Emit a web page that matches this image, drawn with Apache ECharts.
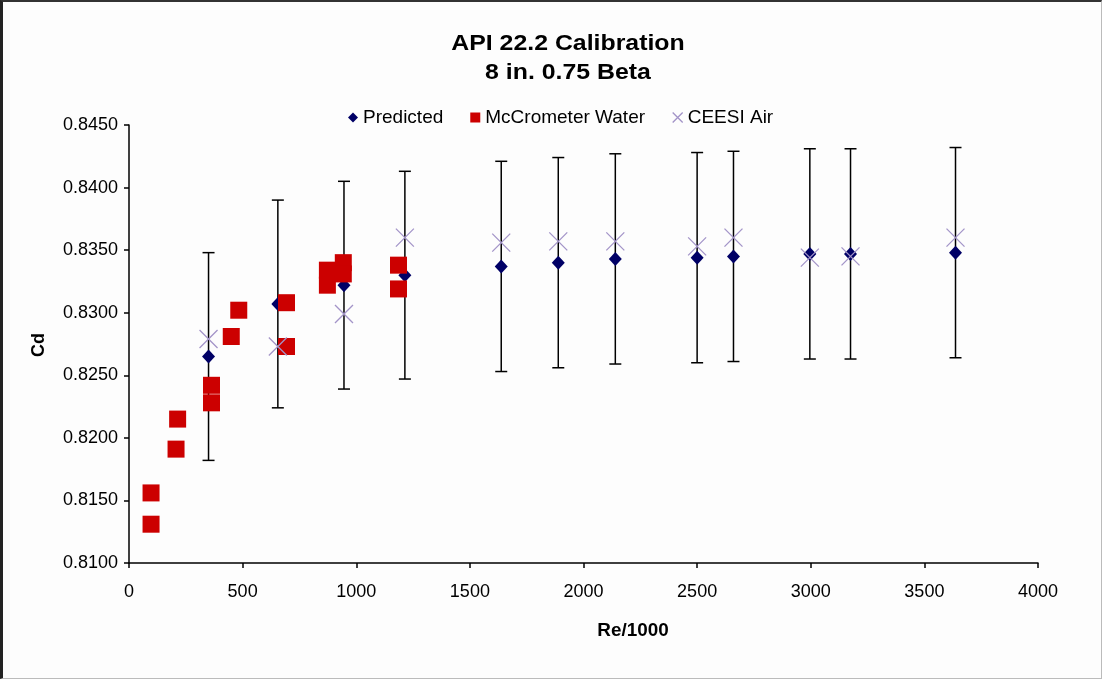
<!DOCTYPE html>
<html>
<head>
<meta charset="utf-8">
<script src="https://cdn.jsdelivr.net/npm/echarts@6/dist/echarts.min.js"></script>
<style>
html,body{margin:0;padding:0;background:#fff;}
#wrap{position:absolute;left:0;top:0;width:1102px;height:679px;box-sizing:border-box;border-left:3px solid #222;border-top:2px solid #333;border-right:1px solid #bbb;border-bottom:1px solid #bbb;background:#fdfdfd;}
#chart{position:absolute;left:-3px;top:-2px;width:1102px;height:679px;}
</style>
</head>
<body>
<div id="wrap"><div id="chart"></div></div>
<script>
// Re/1000 positions of the predicted / CEESI points
const reAir = [350, 655, 946, 1214, 1638, 1889, 2140, 2500, 2660, 2996, 3175, 3637];
const predicted = [0.8265, 0.8307, 0.8322, 0.8330, 0.8337, 0.8340, 0.8343, 0.8344, 0.8345, 0.8347, 0.8347, 0.8348];
const predictedErr = [0.0083, 0.0083, 0.0083, 0.0083, 0.0084, 0.0084, 0.0084, 0.0084, 0.0084, 0.0084, 0.0084, 0.0084];
const ceesiAir = [0.8279, 0.8273, 0.8299, 0.8360, 0.8356, 0.8357, 0.8357, 0.8353, 0.8360, 0.8344, 0.8345, 0.8360];
// McCrometer water points
const reWater = [97, 97, 207, 214, 363, 363, 450, 483, 693, 693, 873, 873, 943, 943, 1186, 1186];
const cdWater = [0.8156, 0.8131, 0.8191, 0.8215, 0.8242, 0.8228, 0.8281, 0.8302, 0.8308, 0.8273, 0.8334, 0.8322, 0.8340, 0.8331, 0.8338, 0.8319];
const xTicks = [0, 500, 1000, 1500, 2000, 2500, 3000, 3500, 4000];
const yTicks = [0.8100, 0.8150, 0.8200, 0.8250, 0.8300, 0.8350, 0.8400, 0.8450];

const X_PATH = 'path://M0,0L10,10M10,0L0,10';
const FONT = '"Liberation Sans", Arial, sans-serif';

const chart = echarts.init(document.getElementById('chart'), null, {renderer: 'canvas'});
const predData = reAir.map((x, i) => [x, predicted[i]]);
const airData = reAir.map((x, i) => [x, ceesiAir[i]]);
const waterData = reWater.map((x, i) => [x, cdWater[i]]);
const errData = reAir.map((x, i) => [x, predicted[i] - predictedErr[i], predicted[i] + predictedErr[i]]);

chart.setOption({
  backgroundColor: 'transparent',
  animation: false,
  textStyle: {fontFamily: FONT},
  grid: {left: 129, right: 64, top: 125, bottom: 116, containLabel: false},
  graphic: [
    {type: 'text', x: 568, y: 44, scaleX: 1.13, style: {text: 'API 22.2 Calibration', font: 'bold 22px ' + FONT, fill: '#000', textAlign: 'center', textVerticalAlign: 'middle'}},
    {type: 'text', x: 568, y: 73, scaleX: 1.13, style: {text: '8 in. 0.75 Beta', font: 'bold 22px ' + FONT, fill: '#000', textAlign: 'center', textVerticalAlign: 'middle'}},
    {type: 'text', x: 633, y: 631, scaleX: 1.05, style: {text: 'Re/1000', font: 'bold 18px ' + FONT, fill: '#000', textAlign: 'center', textVerticalAlign: 'middle'}},
    {type: 'text', x: 39, y: 345, rotation: Math.PI / 2, style: {text: 'Cd', font: 'bold 18px ' + FONT, fill: '#000', textAlign: 'center', textVerticalAlign: 'middle'}}
  ],
  legend: {
    left: 343, top: 103,
    itemWidth: 10, itemHeight: 10, itemGap: 27,
    textStyle: {fontSize: 19, color: '#000', fontFamily: FONT, padding: [0, 0, 0, 0]},
    data: [
      {name: 'Predicted', icon: 'diamond', itemStyle: {color: '#000066'}},
      {name: 'McCrometer Water', icon: 'rect', itemStyle: {color: '#cc0000'}},
      {name: 'CEESI Air', icon: X_PATH, itemStyle: {color: 'rgba(0,0,0,0)', borderColor: '#a394c8', borderWidth: 1.3}}
    ]
  },
  xAxis: {
    type: 'value', min: xTicks[0], max: xTicks[xTicks.length - 1], interval: 500,
    splitLine: {show: false},
    axisLine: {show: true, lineStyle: {color: '#000', width: 1.5}},
    axisTick: {show: true, length: 5, lineStyle: {color: '#000', width: 1.5}},
    axisLabel: {fontSize: 18, color: '#000', margin: 20, fontFamily: FONT, formatter: v => String(v)}
  },
  yAxis: {
    type: 'value', min: yTicks[0], max: yTicks[yTicks.length - 1], interval: 0.005,
    splitLine: {show: false},
    axisLine: {show: true, lineStyle: {color: '#000', width: 1.5}},
    axisTick: {show: true, length: 5, lineStyle: {color: '#000', width: 1.5}},
    axisLabel: {fontSize: 18, color: '#000', margin: 11, fontFamily: FONT, formatter: v => v.toFixed(4)}
  },
  series: [
    {
      name: 'err', type: 'custom', z: 1, silent: true,
      data: errData,
      renderItem: function (params, api) {
        const x = api.value(0);
        const lo = api.coord([x, api.value(1)]);
        const hi = api.coord([x, api.value(2)]);
        const cw = 6;
        const st = {stroke: '#000', lineWidth: 1.5};
        return {type: 'group', children: [
          {type: 'line', shape: {x1: lo[0], y1: lo[1], x2: hi[0], y2: hi[1]}, style: st},
          {type: 'line', shape: {x1: lo[0] - cw, y1: lo[1], x2: lo[0] + cw, y2: lo[1]}, style: st},
          {type: 'line', shape: {x1: hi[0] - cw, y1: hi[1], x2: hi[0] + cw, y2: hi[1]}, style: st}
        ]};
      }
    },
    {
      name: 'Predicted', type: 'scatter', z: 2, data: predData,
      symbol: 'diamond', symbolSize: [13, 14],
      itemStyle: {color: '#000066', opacity: 1}
    },
    {
      name: 'McCrometer Water', type: 'scatter', z: 3, data: waterData,
      symbol: 'rect', symbolSize: 17,
      itemStyle: {color: '#cc0000', opacity: 1}
    },
    {
      name: 'CEESI Air', type: 'scatter', z: 4, data: airData,
      symbol: X_PATH, symbolSize: 18,
      itemStyle: {color: 'rgba(0,0,0,0)', borderColor: '#a394c8', borderWidth: 1.3, opacity: 1}
    }
  ]
});
</script>
</body>
</html>
